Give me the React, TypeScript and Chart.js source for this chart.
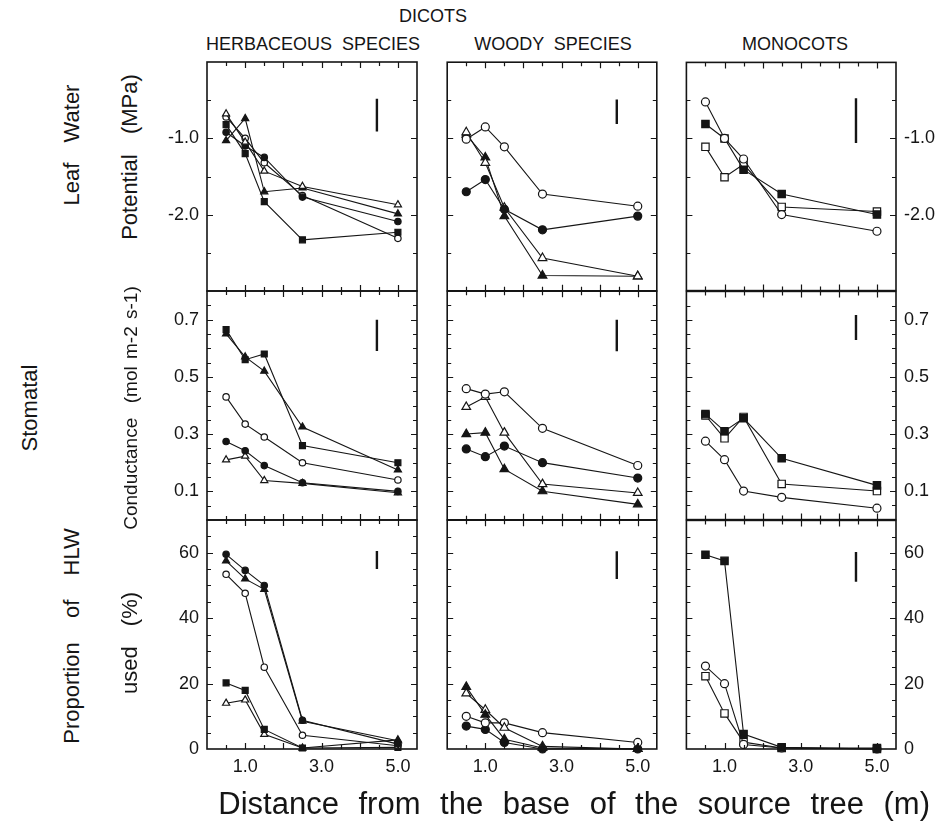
import React, { useEffect, useRef } from "react";
import { Chart, registerables } from "chart.js";

Chart.register(...registerables);

// ---------------- data ----------------
const distances = [0.5, 1.0, 1.5, 2.5, 5.0];

// Leaf water potential (MPa)
const herbLwpOpenTri = [-0.68, -1.05, -1.43, -1.63, -1.87];
const herbLwpFillTri = [-1.03, -0.74, -1.7, -1.65, -1.99];
const herbLwpFillSq = [-0.82, -1.2, -1.83, -2.33, -2.23];
const herbLwpFillCirc = [-0.92, -1.1, -1.25, -1.77, -2.09];
const herbLwpOpenCirc = [-0.72, -1.0, -1.32, -1.75, -2.31];

const woodyLwpOpenCirc = [-1.01, -0.85, -1.11, -1.73, -1.89];
const woodyLwpFillCirc = [-1.7, -1.54, -1.93, -2.2, -2.02];
const woodyLwpOpenTri = [-0.92, -1.32, -1.91, -2.57, -2.81];
const woodyLwpFillTri = [-0.95, -1.25, -2.02, -2.8, -2.81];

const monoLwpOpenCirc = [-0.52, -1.0, -1.27, -2.0, -2.22];
const monoLwpFillSq = [-0.81, -1.0, -1.41, -1.73, -2.0];
const monoLwpOpenSq = [-1.11, -1.51, -1.34, -1.9, -1.96];

// Stomatal conductance (mol m-2 s-1)
const herbGsFillSq = [0.665, 0.56, 0.58, 0.26, 0.2];
const herbGsFillTri = [0.65, 0.57, 0.52, 0.325, 0.175];
const herbGsOpenCirc = [0.43, 0.335, 0.29, 0.2, 0.14];
const herbGsFillCirc = [0.274, 0.242, 0.19, 0.13, 0.1];
const herbGsOpenTri = [0.21, 0.223, 0.138, 0.128, 0.095];

const woodyGsOpenCirc = [0.459, 0.44, 0.448, 0.32, 0.19];
const woodyGsOpenTri = [0.395, 0.43, 0.305, 0.125, 0.094];
const woodyGsFillTri = [0.3, 0.305, 0.177, 0.1, 0.054];
const woodyGsFillCirc = [0.248, 0.221, 0.258, 0.2, 0.146];

const monoGsFillSq = [0.37, 0.31, 0.355, 0.215, 0.12];
const monoGsOpenSq = [0.365, 0.285, 0.36, 0.125, 0.1];
const monoGsOpenCirc = [0.275, 0.21, 0.1, 0.078, 0.04];

// Proportion of HLW used (%)
const herbHlwFillCirc = [59.5, 54.6, 50, 8.8, 1.5];
const herbHlwFillTri = [57.5, 52, 48.8, 8.5, 2.5];
const herbHlwOpenCirc = [53.4, 47.6, 25, 4.2, 1];
const herbHlwFillSq = [20.2, 17.9, 6, 0.3, 0.5];
const herbHlwOpenTri = [14, 15, 4.5, 0.3, 2.8];

const woodyHlwFillTri = [19, 10.5, 3, 0.3, 0];
const woodyHlwOpenTri = [17, 12, 6.5, 0.8, 0];
const woodyHlwOpenCirc = [10, 8, 8, 5, 2];
const woodyHlwFillCirc = [7, 6, 2, 0, 0];

const monoHlwFillSq = [59.5, 57.6, 4.6, 0.5, 0];
const monoHlwOpenCirc = [25.4, 20, 1.4, 0.3, 0];
const monoHlwOpenSq = [22.3, 10.9, 2.1, 0.3, 0.3];

// LSD bars (x position, top, bottom)
const lsdX = 4.45;
const lwpBars = [[-0.48, -0.91], [-0.49, -0.81], [-0.47, -1.06]];
const gsBars = [[0.7, 0.59], [0.7, 0.59], [0.717, 0.63]];
const hlwBars = [[60.5, 55], [60.5, 52], [60.3, 51.2]];

// tick labels
const xTickLabels = [1, 3, 5];
const lwpTickLabels = [-1, -2];
const gsTickLabels = [0.1, 0.3, 0.5, 0.7];
const hlwTickLabels = [0, 20, 40, 60];

const columnTitles = ["HERBACEOUS  SPECIES", "WOODY  SPECIES", "MONOCOTS"];
const groupTitle = "DICOTS";
const xTitle = "Distance from the base of the source tree (m)";

// ---------------- layout ----------------
const FONT = '"Liberation Sans", Arial, Helvetica, sans-serif';
const INK = "#151515";
const PANEL_LEFT = [207, 447, 686];
const PANEL_TOP = [62, 291, 520];
const PANEL_W = 210;
const PANEL_H = 229;
const AXW = 48;
const AXH = 40;
const M = 6;

type Shape = "circle" | "triangle" | "rect";
type SeriesDef = { values: number[]; shape: Shape; filled: boolean };

const rowAxes = [
  { min: -3, max: 0, step: 0.5, labels: lwpTickLabels, fmt: (v: number) => v.toFixed(1) },
  { min: 0, max: 0.8, step: 0.05, labels: gsTickLabels, fmt: (v: number) => v.toFixed(1) },
  { min: 0, max: 70, step: 5, labels: hlwTickLabels, fmt: (v: number) => String(Math.round(v)) },
];

const S = (values: number[], shape: Shape, filled: boolean): SeriesDef => ({ values, shape, filled });

const panels: SeriesDef[][][] = [
  [
    [
      S(herbLwpOpenTri, "triangle", false),
      S(herbLwpFillTri, "triangle", true),
      S(herbLwpFillSq, "rect", true),
      S(herbLwpFillCirc, "circle", true),
      S(herbLwpOpenCirc, "circle", false),
    ],
    [
      S(woodyLwpOpenCirc, "circle", false),
      S(woodyLwpFillCirc, "circle", true),
      S(woodyLwpOpenTri, "triangle", false),
      S(woodyLwpFillTri, "triangle", true),
    ],
    [
      S(monoLwpOpenCirc, "circle", false),
      S(monoLwpFillSq, "rect", true),
      S(monoLwpOpenSq, "rect", false),
    ],
  ],
  [
    [
      S(herbGsFillSq, "rect", true),
      S(herbGsFillTri, "triangle", true),
      S(herbGsOpenCirc, "circle", false),
      S(herbGsFillCirc, "circle", true),
      S(herbGsOpenTri, "triangle", false),
    ],
    [
      S(woodyGsOpenCirc, "circle", false),
      S(woodyGsOpenTri, "triangle", false),
      S(woodyGsFillTri, "triangle", true),
      S(woodyGsFillCirc, "circle", true),
    ],
    [
      S(monoGsFillSq, "rect", true),
      S(monoGsOpenSq, "rect", false),
      S(monoGsOpenCirc, "circle", false),
    ],
  ],
  [
    [
      S(herbHlwFillCirc, "circle", true),
      S(herbHlwFillTri, "triangle", true),
      S(herbHlwOpenCirc, "circle", false),
      S(herbHlwFillSq, "rect", true),
      S(herbHlwOpenTri, "triangle", false),
    ],
    [
      S(woodyHlwFillTri, "triangle", true),
      S(woodyHlwOpenTri, "triangle", false),
      S(woodyHlwOpenCirc, "circle", false),
      S(woodyHlwFillCirc, "circle", true),
    ],
    [
      S(monoHlwFillSq, "rect", true),
      S(monoHlwOpenCirc, "circle", false),
      S(monoHlwOpenSq, "rect", false),
    ],
  ],
];

const bars = [lwpBars, gsBars, hlwBars];

const markerRadius = (col: number, shape: Shape) => {
  const big = col > 0;
  if (shape === "circle") return big ? 4 : 3.2;
  if (shape === "triangle") return big ? 5 : 4.1;
  return big ? 5.2 : 4.2;
};

const isLabel = (v: number, list: number[]) => list.some((l) => Math.abs(l - v) < 1e-6);

function Panel({ row, col }: { row: number; col: number }) {
  const ref = useRef<HTMLCanvasElement | null>(null);
  const ax = rowAxes[row];
  const showX = row === 2;
  const showY = col !== 1;
  const padL = col === 0 ? 0 : M;
  const padR = col === 2 ? 0 : M;
  const extraL = col === 0 ? AXW : M;
  const extraR = col === 2 ? AXW : M;
  const extraB = showX ? AXH : M;
  const width = PANEL_W + extraL + extraR;
  const height = PANEL_H + M + extraB;
  const left = PANEL_LEFT[col] - extraL;
  const top = PANEL_TOP[row] - M;

  useEffect(() => {
    if (!ref.current) return;
    const yTicks: number[] = [];
    const n = Math.round((ax.max - ax.min) / ax.step);
    for (let k = 1; k < n; k++) yTicks.push(ax.min + k * ax.step);
    const xTicks: number[] = [];
    for (let k = 1; k <= 10; k++) xTicks.push(k * 0.5);

    const frame = {
      id: "panelFrame",
      afterDraw(chart: any) {
        const { ctx, chartArea: a } = chart;
        const xs = chart.scales.x;
        const ys = chart.scales.y;
        ctx.save();
        ctx.strokeStyle = INK;
        ctx.lineWidth = 1.6;
        ctx.strokeRect(a.left, a.top, a.right - a.left, a.bottom - a.top);
        ctx.lineWidth = 1.2;
        ctx.beginPath();
        xTicks.forEach((v) => {
          const px = Math.round(xs.getPixelForValue(v)) + 0.5;
          const len = Math.abs(v - Math.round(v)) < 1e-6 ? 6 : 4;
          ctx.moveTo(px, a.top);
          ctx.lineTo(px, a.top + len);
          ctx.moveTo(px, a.bottom);
          ctx.lineTo(px, a.bottom - len);
        });
        yTicks.forEach((v) => {
          const py = Math.round(ys.getPixelForValue(v)) + 0.5;
          const len = isLabel(v, ax.labels) ? 6 : 4;
          ctx.moveTo(a.left, py);
          ctx.lineTo(a.left + len, py);
          ctx.moveTo(a.right, py);
          ctx.lineTo(a.right - len, py);
        });
        ctx.stroke();
        ctx.restore();
      },
    };

    const datasets: any[] = panels[row][col].map((s) => {
      const r = markerRadius(col, s.shape);
      return {
        type: "line",
        data: distances.map((x, i) => ({ x, y: s.values[i] })),
        borderColor: INK,
        borderWidth: 1.1,
        backgroundColor: s.filled ? INK : "#ffffff",
        pointStyle: s.shape,
        pointRadius: r,
        pointHoverRadius: r,
        pointBorderWidth: 1.2,
        pointBorderColor: INK,
        pointBackgroundColor: s.filled ? INK : "#ffffff",
        tension: 0,
        fill: false,
        clip: false,
      };
    });
    const bar = bars[row][col];
    datasets.push({
      type: "line",
      data: [
        { x: lsdX, y: bar[0] },
        { x: lsdX, y: bar[1] },
      ],
      borderColor: INK,
      borderWidth: 2.4,
      pointRadius: 0,
      fill: false,
      clip: false,
    });

    const tickFont = { family: FONT, size: 18 };
    const xScale: any = {
      type: "linear",
      min: 0,
      max: 5.5,
      display: showX,
      grid: { display: false, drawTicks: false },
      border: { display: false },
      ticks: {
        stepSize: 0.5,
        autoSkip: false,
        maxRotation: 0,
        minRotation: 0,
        padding: 7,
        color: INK,
        font: tickFont,
        callback: (v: any) => (isLabel(Number(v), xTickLabels) ? Number(v).toFixed(1) : ""),
      },
      afterFit: (s: any) => {
        if (showX) s.height = AXH;
        s.paddingLeft = 0;
        s.paddingRight = 0;
        s.paddingTop = 0;
        s.paddingBottom = 0;
      },
    };
    const yScale: any = {
      type: "linear",
      min: ax.min,
      max: ax.max,
      position: col === 2 ? "right" : "left",
      display: showY,
      grid: { display: false, drawTicks: false },
      border: { display: false },
      ticks: {
        stepSize: ax.step,
        autoSkip: false,
        padding: 8,
        color: INK,
        font: tickFont,
        callback: (v: any) => (isLabel(Number(v), ax.labels) ? ax.fmt(Number(v)) : ""),
      },
      afterFit: (s: any) => {
        if (showY) s.width = AXW;
        s.paddingLeft = 0;
        s.paddingRight = 0;
        s.paddingTop = 0;
        s.paddingBottom = 0;
      },
    };

    const chart = new Chart(ref.current, {
      type: "line",
      data: { datasets },
      options: {
        animation: false,
        responsive: false,
        maintainAspectRatio: false,
        devicePixelRatio: 1,
        events: [],
        layout: { padding: { left: padL, right: padR, top: M, bottom: showX ? 0 : M } },
        plugins: { legend: { display: false }, tooltip: { enabled: false } },
        scales: { x: xScale, y: yScale },
      } as any,
      plugins: [frame],
    });
    return () => chart.destroy();
  }, [row, col]);

  return (
    <canvas
      ref={ref}
      width={width}
      height={height}
      style={{ position: "absolute", left, top, width, height }}
    />
  );
}

const textBase: React.CSSProperties = {
  position: "absolute",
  fontFamily: FONT,
  color: INK,
  whiteSpace: "pre",
  lineHeight: 1,
};

function Rotated({ x, y, size, text, ws = 4 }: { x: number; y: number; size: number; text: string; ws?: number }) {
  return (
    <div
      style={{
        ...textBase,
        left: x,
        top: y,
        fontSize: size,
        wordSpacing: ws,
        transform: "translate(-50%, -50%) rotate(-90deg)",
      }}
    >
      {text}
    </div>
  );
}

function Centered({ x, y, size, text }: { x: number; y: number; size: number; text: string }) {
  return (
    <div style={{ ...textBase, left: x, top: y, fontSize: size, transform: "translate(-50%, -50%)" }}>
      {text}
    </div>
  );
}

export default function App() {
  const cells: JSX.Element[] = [];
  for (let r = 0; r < 3; r++) for (let c = 0; c < 3; c++) cells.push(<Panel key={`${r}-${c}`} row={r} col={c} />);
  return (
    <div style={{ position: "absolute", left: 0, top: 0, width: 941, height: 826, background: "#fff", overflow: "hidden" }}>
      <Centered x={433} y={16} size={18} text={groupTitle} />
      <Centered x={313} y={44} size={18} text={columnTitles[0]} />
      <Centered x={553} y={44} size={18} text={columnTitles[1]} />
      <Centered x={795} y={44} size={18} text={columnTitles[2]} />
      {cells}
      <Rotated x={72} y={145} size={22} text="Leaf  Water" />
      <Rotated x={130} y={157} size={22} text="Potential  (MPa)" />
      <Rotated x={30} y={408} size={22} text="Stomatal" />
      <Rotated x={130} y={408} size={19} text="Conductance  (mol m-2 s-1)" ws={2} />
      <Rotated x={72} y={636} size={22} text="Proportion  of  HLW" ws={6} />
      <Rotated x={130} y={643} size={22} text="used  (%)" />
      <div style={{ ...textBase, right: 941 - 930, top: 788, fontSize: 31, wordSpacing: 11 }}>{xTitle}</div>
    </div>
  );
}
